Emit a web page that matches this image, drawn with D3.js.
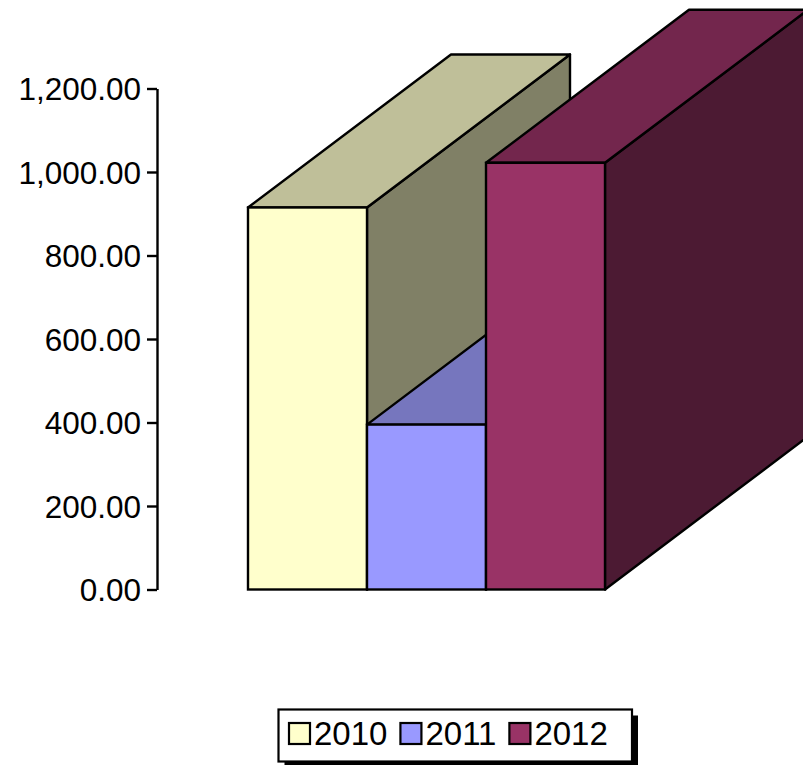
<!DOCTYPE html>
<html>
<head>
<meta charset="utf-8">
<script src="https://cdn.jsdelivr.net/npm/d3@7"></script>
<style>
  html, body { margin: 0; padding: 0; background: #fff; }
  svg { display: block; font-family: "Liberation Sans", Arial, sans-serif; }
</style>
</head>
<body>
<svg id="chart" width="803" height="765"></svg>
<script>
// Yearly totals
const years = ["2010", "2011", "2012"];
const totals = [915, 395, 1022];
const tickValues = [0, 200, 400, 600, 800, 1000, 1200];

// Face colours per year: front, top (lit), side (shaded)
const frontColors = ["#FFFFCC", "#9999FF", "#993366"];
const topColors = ["#BFBF99", "#7676BE", "#73264D"];
const sideColors = ["#808066", "#4D4D80", "#4C1A33"];

const svg = d3.select("#chart");

const x = d3.scaleBand().domain(years).range([248, 605]).paddingInner(0).paddingOuter(0);
const y = d3.scaleLinear().domain([0, 1200]).range([589.5, 88.5]);

// Oblique depth of the 3D boxes
const depthX = 203, depthY = -153;
const edge = 2.4;

// Value axis
const axis = d3.axisLeft(y)
  .tickValues(tickValues)
  .tickFormat(d3.format(",.2f"))
  .tickSize(10)
  .tickSizeOuter(0)
  .tickPadding(6);

const gAxis = svg.append("g")
  .attr("transform", "translate(157,0)")
  .call(axis);
gAxis.select(".domain").attr("stroke", "#000").attr("stroke-width", 2.4);
gAxis.selectAll(".tick line").attr("stroke", "#000").attr("stroke-width", 2.4);
gAxis.selectAll(".tick text")
  .attr("fill", "#000")
  .attr("dy", "0.35em")
  .style("font-size", "31.5px")
  .style("font-family", "'Liberation Sans', Arial, sans-serif");

// Boxes, drawn left to right so nearer faces overlap correctly
const bars = svg.append("g").attr("class", "bars");
years.forEach((yr, i) => {
  const x0 = x(yr), x1 = x(yr) + x.bandwidth();
  const yTop = y(totals[i]), yBase = y(0);
  const g = bars.append("g");
  const pts = arr => arr.map(p => p.join(",")).join(" ");

  g.append("polygon")
    .attr("points", pts([[x1, yBase], [x1 + depthX, yBase + depthY], [x1 + depthX, yTop + depthY], [x1, yTop]]))
    .attr("fill", sideColors[i]).attr("stroke", "#000").attr("stroke-width", edge).attr("stroke-linejoin", "round");

  g.append("polygon")
    .attr("points", pts([[x0, yTop], [x0 + depthX, yTop + depthY], [x1 + depthX, yTop + depthY], [x1, yTop]]))
    .attr("fill", topColors[i]).attr("stroke", "#000").attr("stroke-width", edge).attr("stroke-linejoin", "round");

  g.append("rect")
    .attr("x", x0).attr("y", yTop)
    .attr("width", x1 - x0).attr("height", yBase - yTop)
    .attr("fill", frontColors[i]).attr("stroke", "#000").attr("stroke-width", edge);
});

// Legend with drop shadow
const legend = svg.append("g").attr("class", "legend");
const box = { x: 278.5, y: 709.5, w: 353.5, h: 52 };
legend.append("rect")
  .attr("x", box.x + 6).attr("y", box.y + 6)
  .attr("width", box.w).attr("height", box.h)
  .attr("fill", "#000");
legend.append("rect")
  .attr("x", box.x).attr("y", box.y)
  .attr("width", box.w).attr("height", box.h)
  .attr("fill", "#fff").attr("stroke", "#000").attr("stroke-width", 2.2);

let lx = 289;
years.forEach((yr, i) => {
  legend.append("rect")
    .attr("x", lx).attr("y", 723)
    .attr("width", 21).attr("height", 21)
    .attr("fill", frontColors[i]).attr("stroke", "#000").attr("stroke-width", 2.2);
  const t = legend.append("text")
    .attr("x", lx + 25).attr("y", 745)
    .attr("fill", "#000")
    .style("font-size", "33px")
    .text(yr);
  lx += 25 + t.node().getComputedTextLength() + 13;
});
</script>
</body>
</html>
